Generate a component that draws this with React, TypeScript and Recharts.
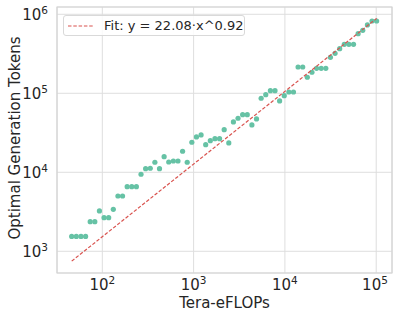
import React from 'react';
import { ScatterChart, Scatter, XAxis, YAxis, CartesianGrid, ReferenceArea } from 'recharts';

// Tera-eFLOPs (x), roughly evenly spaced in log
const flops = [
  46.2, 51.9, 58.4, 65.6, 73.7, 82.8, 93.0, 104.5, 117.4, 132.0,
  148.3, 166.6, 187.2, 210.3, 236.3, 265.5, 298.3, 335.2, 376.6, 423.1,
  475.3, 534.1, 600.0, 674.2, 757.5, 851.1, 956.3, 1074.5, 1207.2, 1356.4,
  1524.1, 1712.4, 1924.0, 2161.7, 2428.8, 2729.0, 3066.2, 3445.0, 3870.7, 4349.0,
  4886.5, 5490.3, 6168.7, 6930.9, 7787.3, 8749.6, 9830.8, 11045, 12410, 13943,
  15668, 17603, 19778, 22222, 24968, 28054, 31521, 35416, 39792, 44709,
  50234, 56441, 63415, 71252, 80056, 89950, 101065,
];

// optimal generation tokens (y)
const tokens = [
  1540, 1540, 1540, 1540, 2370, 2370, 3240, 2660, 2660, 3400,
  5010, 5010, 6580, 6580, 6580, 9440, 11120, 11250, 13400, 11120,
  15750, 13490, 13900, 13900, 18450, 13400, 23990, 27990, 29660, 22340,
  25120, 26610, 26610, 34590, 23500, 43350, 48300, 53600, 53600, 39720,
  47320, 86500, 96000, 107900, 107900, 79970, 93300, 103800, 103800, 215000,
  215000, 159500, 184500, 207000, 207000, 207000, 285500, 320700, 367000, 417000,
  417000, 417000, 567700, 627000, 732000, 822000, 822000,
];

// end points of the fitted power law y = 22.08 * x^0.92
const fitFlops = [46.2, 101065];
const fitTokens = [751, 887000];

const xTicks = [100, 1000, 10000, 100000];
const yTicks = [1000, 10000, 100000, 1000000];

const points = flops.map((x, i) => ({ x, y: tokens[i] }));
const fitLine = fitFlops.map((x, i) => ({ x, y: fitTokens[i] }));

const FONT = 'DejaVu Sans, sans-serif';
const TEXT = '#262626';
const GRID = '#dedede';
const DOT = '#66c2a5';
const FIT = '#d9534f';

const XTick = (props: any) => {
  const { x, y, payload } = props;
  const exp = Math.round(Math.log10(payload.value));
  return (
    <text x={x} y={y + 9} textAnchor="middle" fill={TEXT} fontFamily={FONT} fontSize={15}>
      10<tspan dy={-6} fontSize={10.5}>{exp}</tspan>
    </text>
  );
};

const YTick = (props: any) => {
  const { x, y, payload } = props;
  const exp = Math.round(Math.log10(payload.value));
  return (
    <text x={x - 1} y={y + 5.5} textAnchor="end" fill={TEXT} fontFamily={FONT} fontSize={15}>
      10<tspan dy={-6} fontSize={10.5}>{exp}</tspan>
    </text>
  );
};

const YLabel = () => (
  <text
    x={20}
    y={138}
    transform="rotate(-90 20 138)"
    textAnchor="middle"
    fill={TEXT}
    fontFamily={FONT}
    fontSize={15}
  >
    Optimal Generation Tokens
  </text>
);

const XLabel = () => (
  <text x={224.5} y={308} textAnchor="middle" fill={TEXT} fontFamily={FONT} fontSize={15}>
    Tera-eFLOPs
  </text>
);

const Dot = (props: any) => <circle cx={props.cx} cy={props.cy} r={2.6} fill={DOT} />;

export default function App() {
  return (
    <div style={{ position: 'absolute', left: 0, top: 0, width: 399, height: 319, background: '#fff' }}>
      <ScatterChart width={399} height={319} margin={{ top: 7, right: 7, bottom: 0, left: 0 }}>
        <CartesianGrid stroke={GRID} strokeWidth={1} horizontal vertical />
        <XAxis
          type="number"
          dataKey="x"
          scale="log"
          domain={[31.9, 148900]}
          ticks={xTicks}
          allowDataOverflow
          tick={<XTick />}
          tickLine={false}
          axisLine={false}
          height={46}
          label={<XLabel />}
        />
        <YAxis
          type="number"
          dataKey="y"
          scale="log"
          domain={[531, 1236000]}
          ticks={yTicks}
          allowDataOverflow
          tick={<YTick />}
          tickLine={false}
          axisLine={false}
          width={57}
          label={<YLabel />}
        />
        <ReferenceArea x1={31.9} x2={148900} y1={531} y2={1236000} fill="none" stroke="#d4d4d4" strokeWidth={1.2} ifOverflow="visible" />
        <Scatter data={points} shape={<Dot />} isAnimationActive={false} legendType="none" />
        <Scatter
          data={fitLine}
          line={{ stroke: FIT, strokeWidth: 1.2, strokeDasharray: '3.5 1.8' }}
          shape={() => <g />}
          isAnimationActive={false}
          legendType="none"
        />
      </ScatterChart>
      <div
        style={{
          position: 'absolute',
          left: 63,
          top: 15,
          width: 182,
          height: 21,
          boxSizing: 'border-box',
          border: '1px solid #d9d9d9',
          borderRadius: 3,
          background: 'rgba(255,255,255,0.85)',
          display: 'flex',
          alignItems: 'center',
          fontFamily: FONT,
          fontSize: 13,
          color: TEXT,
        }}
      >
        <svg width={40} height={10} style={{ flex: 'none' }}>
          <line x1={4} y1={5} x2={30} y2={5} stroke={FIT} strokeWidth={1.2} strokeDasharray="3.5 1.8" />
        </svg>
        <span style={{ whiteSpace: 'nowrap' }}>Fit: y = 22.08·x^0.92</span>
      </div>
    </div>
  );
}
